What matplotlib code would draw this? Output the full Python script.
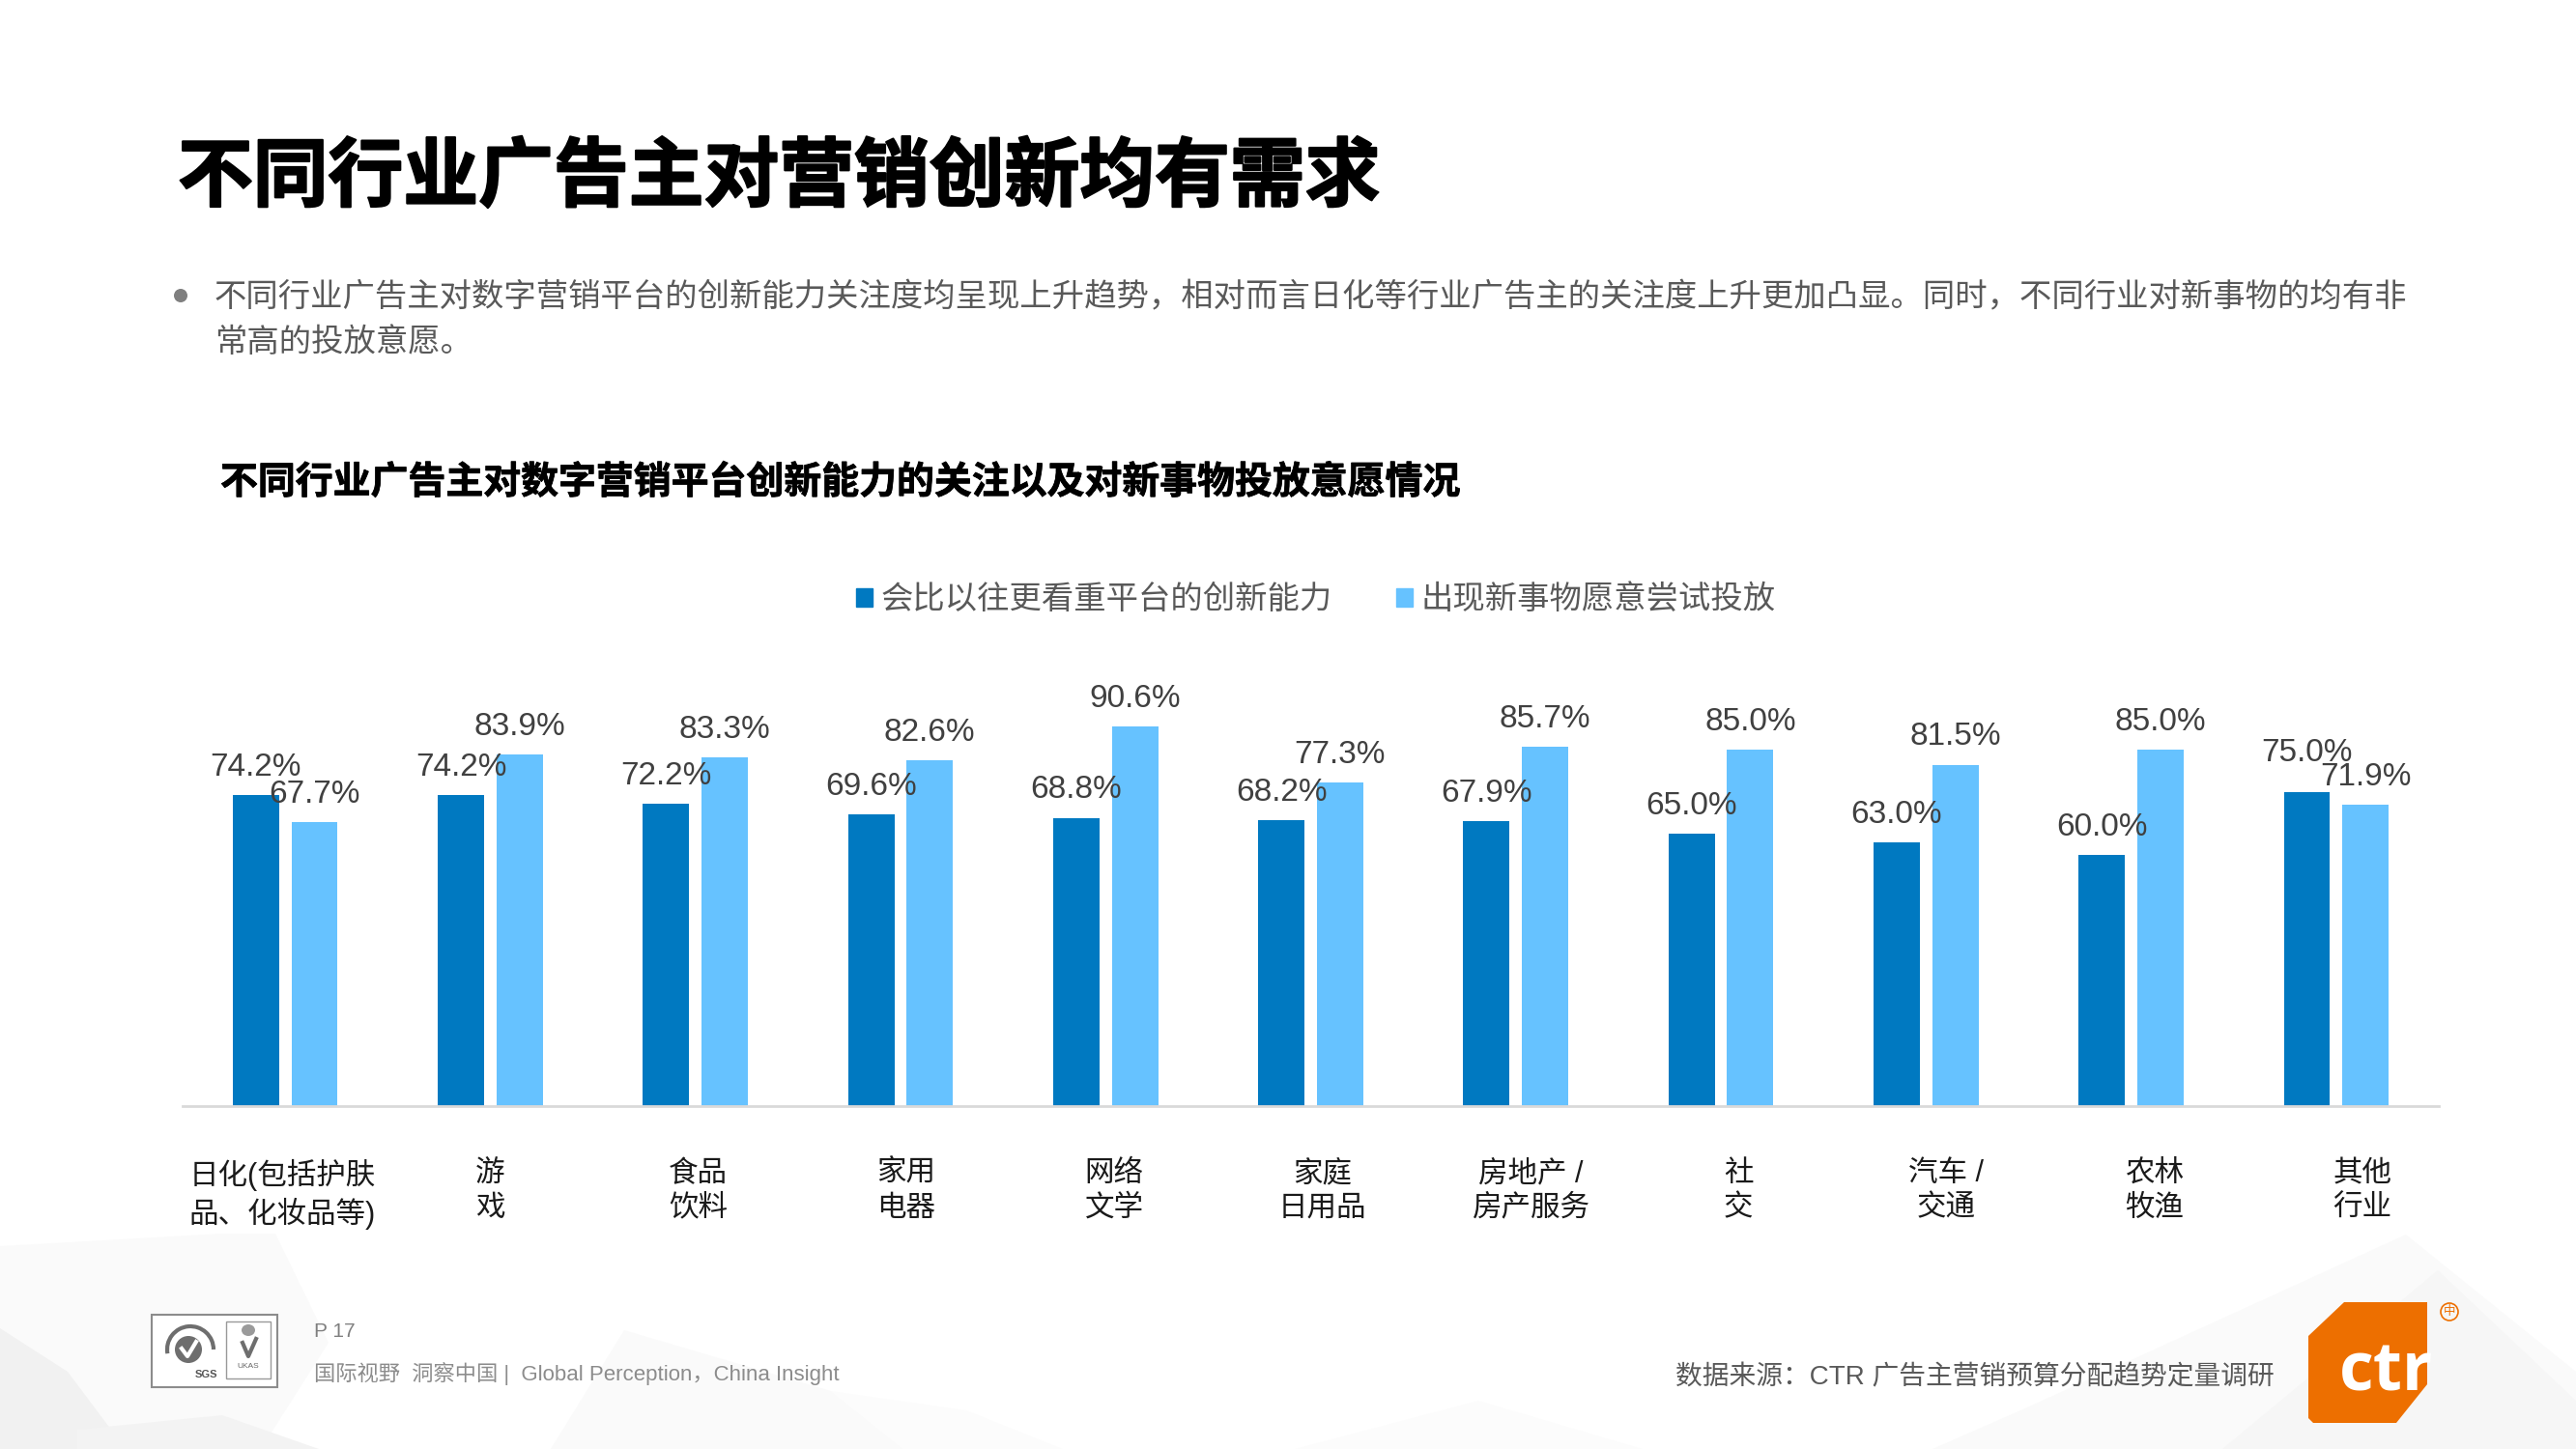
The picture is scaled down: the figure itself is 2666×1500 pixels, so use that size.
import matplotlib
matplotlib.use("Agg")
import matplotlib.pyplot as plt
import matplotlib.patheffects as pe
from matplotlib.patches import Polygon, Rectangle, Circle, Ellipse, Arc, Patch

W, H = 2666, 1500
FONT = ['Liberation Sans', 'Noto Sans CJK SC']
plt.rcParams['font.family'] = FONT

categories = ['日化(包括护肤\n品、化妆品等)', '游\n戏', '食品\n饮料', '家用\n电器', '网络\n文学',
              '家庭\n日用品', '房地产 /\n房产服务', '社\n交', '汽车 /\n交通', '农林\n牧渔', '其他\n行业']
innovation = [74.2, 74.2, 72.2, 69.6, 68.8, 68.2, 67.9, 65.0, 63.0, 60.0, 75.0]
new_things = [67.7, 83.9, 83.3, 82.6, 90.6, 77.3, 85.7, 85.0, 81.5, 85.0, 71.9]
series_names = ['会比以往更看重平台的创新能力', '出现新事物愿意尝试投放']
series_colors = ['#0079C1', '#66C2FF']

title = '不同行业广告主对营销创新均有需求'
sub1 = '不同行业广告主对数字营销平台的创新能力关注度均呈现上升趋势，相对而言日化等行业广告主的关注度上升更加凸显。同时，不同行业对新事物的均有非'
sub2 = '常高的投放意愿。'
chart_title = '不同行业广告主对数字营销平台创新能力的关注以及对新事物投放意愿情况'

fig = plt.figure(figsize=(W / 100, H / 100), dpi=100, facecolor='white')

# page layer in pixel coordinates
pg = fig.add_axes([0, 0, 1, 1], zorder=0)
pg.set_xlim(0, W)
pg.set_ylim(H, 0)
pg.axis('off')

bg_polys = [
    ([(0, 1290), (230, 1277), (285, 1277), (340, 1390), (270, 1500), (0, 1500)], '#FAFAFA'),
    ([(0, 1375), (70, 1420), (130, 1500), (0, 1500)], '#F1F1F1'),
    ([(80, 1480), (230, 1465), (330, 1500), (80, 1500)], '#F3F3F3'),
    ([(646, 1377), (860, 1440), (935, 1500), (570, 1500)], '#FAFAFA'),
    ([(860, 1440), (1000, 1460), (1100, 1500), (935, 1500)], '#FCFCFC'),
    ([(2490, 1278), (2666, 1420), (2666, 1500), (2000, 1500), (2098, 1457)], '#FAFAFA'),
    ([(2523, 1315), (2666, 1450), (2666, 1500), (2300, 1500)], '#F6F6F6'),
    ([(1530, 1450), (1700, 1500), (1340, 1500)], '#FCFCFC'),
]
for pts, col in bg_polys:
    pg.add_patch(Polygon(pts, closed=True, fc=col, ec='none'))

pg.text(184, 186, title, fontsize=56, fontweight='bold', color='black', va='center', ha='left',
        path_effects=[pe.withStroke(linewidth=1.5, foreground='black')])
pg.add_patch(Ellipse((187, 306), 14, 14, fc='#7F7F7F', ec='none'))
pg.text(222, 308, sub1, fontsize=24, color='#595959', va='center', ha='left')
pg.text(222, 355, sub2, fontsize=24, color='#595959', va='center', ha='left')
pg.text(228, 500, chart_title, fontsize=28, fontweight='bold', color='black', va='center', ha='left',
        path_effects=[pe.withStroke(linewidth=0.6, foreground='black')])

# footer text
pg.text(325, 1378, 'P 17', fontsize=15, color='#7F7F7F', va='center', ha='left')
pg.text(325, 1422, '国际视野  洞察中国 |  Global Perception，China Insight', fontsize=16,
        color='#8C8C8C', va='center', ha='left')
pg.text(1734, 1426, '数据来源：CTR 广告主营销预算分配趋势定量调研', fontsize=20,
        color='#595959', va='center', ha='left')

# certification mark
pg.add_patch(Rectangle((157, 1361), 130, 75, fc='white', ec='#8C8C8C', lw=1.5))
pg.add_patch(Rectangle((234, 1368), 46, 59, fc='white', ec='#999999', lw=1))
pg.add_patch(Circle((195, 1397), 14, fc='#6E6E6E', ec='none'))
pg.plot([188, 194, 203], [1396, 1404, 1389], color='white', lw=3)
pg.add_patch(Arc((197, 1397), 48, 48, theta1=170, theta2=360, ec='#6E6E6E', lw=3))
pg.text(213, 1423, 'SGS', fontsize=8, fontweight='bold', color='#555555', va='center', ha='center')
pg.plot([251, 257, 265], [1390, 1404, 1386], color='#6E6E6E', lw=3)
pg.add_patch(Ellipse((257, 1377), 14, 12, fc='#9A9A9A', ec='none'))
pg.text(257, 1414, 'UKAS', fontsize=6, color='#666666', va='center', ha='center')

# ctr logo
logo = Polygon([(2426, 1348), (2512, 1348), (2512, 1433), (2480, 1473), (2394, 1473),
                (2389, 1468), (2389, 1383)], closed=True, fc='#ED6F00', ec='none')
pg.add_patch(logo)
ctr = pg.text(2421, 1440, 'ctr', fontsize=50, fontweight='bold', color='white',
              family=['Open Sans', 'Liberation Sans'], va='baseline', ha='left')
ctr.set_clip_path(logo)
ctr.set_clip_on(True)
pg.add_patch(Circle((2535, 1358), 9, fc='none', ec='#ED6F00', lw=1.2))
pg.text(2535, 1358, '中', fontsize=9, color='#ED6F00', va='center', ha='center')

# chart: x spans 189-2524 px; baseline 1144.5 px; 4.33 px per percent
top_px = 1144.5 - 100 * 4.33
ax = fig.add_axes([189 / W, 1 - 1144.5 / H, (2524 - 189) / W, (1144.5 - top_px) / H], zorder=1)
ax.patch.set_alpha(0)
x = list(range(len(categories)))
offset = 0.143
width = 0.226
b1 = ax.bar([i - offset for i in x], innovation, width, color=series_colors[0], label=series_names[0])
b2 = ax.bar([i + offset for i in x], new_things, width, color=series_colors[1], label=series_names[1])
labels1 = ax.bar_label(b1, labels=[f'{v:.1f}%' for v in innovation], padding=9.5, fontsize=24,
                       color='#404040', clip_on=False)
labels2 = ax.bar_label(b2, labels=[f'{v:.1f}%' for v in new_things], padding=9.5, fontsize=24,
                       color='#404040', clip_on=False)
# the reference lifts the last dark label clear of its neighbour
labels1[-1].xyann = (0, 18)
ax.set_xlim(-0.5, len(categories) - 0.5)
ax.set_ylim(0, 100)
ax.set_yticks([])
# the reference's category labels run on a slightly wider pitch than its bars
ax.set_xticks([-0.014 + 1.0141 * i for i in x])
ax.set_xticklabels(categories, fontsize=22, color='#1A1A1A', linespacing=1.25, ha='center')
ax.tick_params(axis='x', length=0, pad=40)
for s in ('top', 'left', 'right'):
    ax.spines[s].set_visible(False)
ax.spines['bottom'].set_color('#D9D9D9')
ax.spines['bottom'].set_linewidth(2)

handles = [Patch(color=c, label=n) for c, n in zip(series_colors, series_names)]
leg = fig.legend(handles=handles, loc='center', bbox_to_anchor=(1362 / W, 1 - 621.5 / H), ncol=2,
                 frameon=False, fontsize=24, handlelength=0.51, handleheight=0.51,
                 handletextpad=0.24, columnspacing=2.0, borderpad=0, labelcolor='#595959')

fig.savefig('out.png', dpi=100)
